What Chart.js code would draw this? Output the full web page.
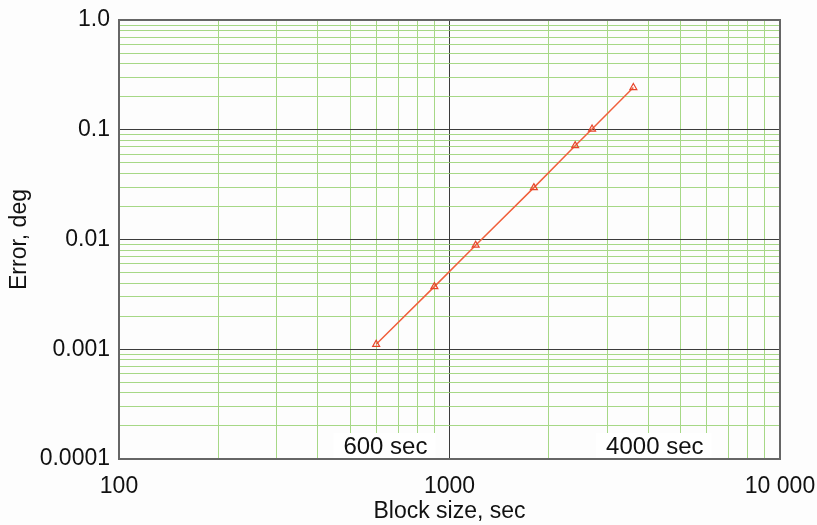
<!DOCTYPE html>
<html>
<head>
<meta charset="utf-8">
<script src="https://cdn.jsdelivr.net/npm/chart.js@4"></script>
<style>
html,body{margin:0;padding:0;background:#fdfdfd;}
#wrap{width:817px;height:525px;}
</style>
</head>
<body>
<div id="wrap"><canvas id="c" width="817" height="525"></canvas></div>
<script>
// ---- data ----
const blockSizes = [600, 900, 1200, 1800, 2400, 2700, 3600];
const errors = [0.00111, 0.00372, 0.00887, 0.0297, 0.0716, 0.1015, 0.2424];

// ---- axes ----
const xDecades = [100, 1000, 10000];
const xTickLabels = ['100', '1000', '10 000'];
const yDecades = [0.0001, 0.001, 0.01, 0.1, 1];
const yTickLabels = ['0.0001', '0.001', '0.01', '0.1', '1.0'];
const minorMultipliers = [2, 3, 4, 5, 6, 7, 8, 9];

const xTitle = 'Block size, sec';
const yTitle = 'Error, deg';

// text boxes inside the plot
const noteTexts = ['600 sec', '4000 sec'];
const noteX = [640, 4180];

function buildTicks(decades) {
  const out = [];
  decades.forEach((d, i) => {
    out.push({value: d, major: true});
    if (i < decades.length - 1) minorMultipliers.forEach(m => out.push({value: d * m, major: false}));
  });
  return out;
}
function isDecade(v, decades) {
  return decades.some(d => Math.abs(v / d - 1) < 1e-6);
}

const MAJOR = '#3c3c3c';
const MINOR = '#a6d886';

const framePlugin = {
  id: 'frame',
  afterDraw(chart) {
    const {ctx, chartArea: a, scales} = chart;
    ctx.save();
    // notes
    ctx.font = '24px "Liberation Sans", Arial, sans-serif';
    ctx.textBaseline = 'middle';
    ctx.textAlign = 'center';
    noteTexts.forEach((t, i) => {
      const cx = scales.x.getPixelForValue(noteX[i]);
      const w = ctx.measureText(t).width;
      const cy = a.bottom - 12;
      ctx.fillStyle = '#ffffff';
      ctx.fillRect(cx - w / 2 - 10, a.bottom - 26, w + 18, 25);
      ctx.fillStyle = '#111111';
      ctx.fillText(t, cx, cy);
    });
    // frame
    ctx.strokeStyle = '#666666';
    ctx.lineWidth = 2;
    ctx.strokeRect(a.left, a.top, a.right - a.left, a.bottom - a.top);
    ctx.restore();
  }
};

new Chart(document.getElementById('c'), {
  type: 'scatter',
  data: {
    datasets: [{
      data: blockSizes.map((x, i) => ({x: x, y: errors[i]})),
      showLine: true,
      borderColor: '#f0603c',
      borderWidth: 1.5,
      pointStyle: 'triangle',
      pointRadius: 4,
      pointBorderWidth: 1.2,
      pointBorderColor: '#e8442a',
      pointBackgroundColor: 'rgba(255,255,255,0)',
      tension: 0
    }]
  },
  options: {
    responsive: false,
    animation: false,
    layout: {padding: {top: 20, right: 37, left: 0, bottom: 0}},
    plugins: {legend: {display: false}, tooltip: {enabled: false}},
    scales: {
      x: {
        type: 'logarithmic',
        min: 100, max: 10000,
        afterBuildTicks: s => { s.ticks = buildTicks(xDecades); },
        afterFit: s => { s.height = 66; s.paddingLeft = 0; s.paddingRight = 0; },
        grid: {
          drawTicks: false,
          color: c => (c.tick && isDecade(c.tick.value, xDecades)) ? MAJOR : MINOR,
          lineWidth: 1
        },
        border: {display: false},
        ticks: {
          autoSkip: false,
          maxRotation: 0,
          padding: 14,
          color: '#111111',
          font: {size: 23, family: '"Liberation Sans", Arial, sans-serif'},
          callback: v => { const i = xDecades.findIndex(d => Math.abs(v / d - 1) < 1e-6); return i >= 0 ? xTickLabels[i] : ''; }
        },
        title: {
          display: true, text: xTitle, color: '#111111',
          padding: {top: 0, bottom: 0},
          font: {size: 23, family: '"Liberation Sans", Arial, sans-serif'}
        }
      },
      y: {
        type: 'logarithmic',
        min: 0.0001, max: 1,
        afterBuildTicks: s => { s.ticks = buildTicks(yDecades); },
        afterFit: s => { s.width = 119; s.paddingTop = 0; s.paddingBottom = 0; },
        grid: {
          drawTicks: false,
          color: c => (c.tick && isDecade(c.tick.value, yDecades)) ? MAJOR : MINOR,
          lineWidth: 1
        },
        border: {display: false},
        ticks: {
          autoSkip: false,
          padding: 9,
          color: '#111111',
          font: {size: 23, family: '"Liberation Sans", Arial, sans-serif'},
          callback: v => { const i = yDecades.findIndex(d => Math.abs(v / d - 1) < 1e-6); return i >= 0 ? yTickLabels[i] : ''; }
        },
        title: {
          display: true, text: yTitle, color: '#111111',
          padding: {top: 6, bottom: 0},
          font: {size: 23, family: '"Liberation Sans", Arial, sans-serif'}
        }
      }
    }
  },
  plugins: [framePlugin]
});
</script>
</body>
</html>
